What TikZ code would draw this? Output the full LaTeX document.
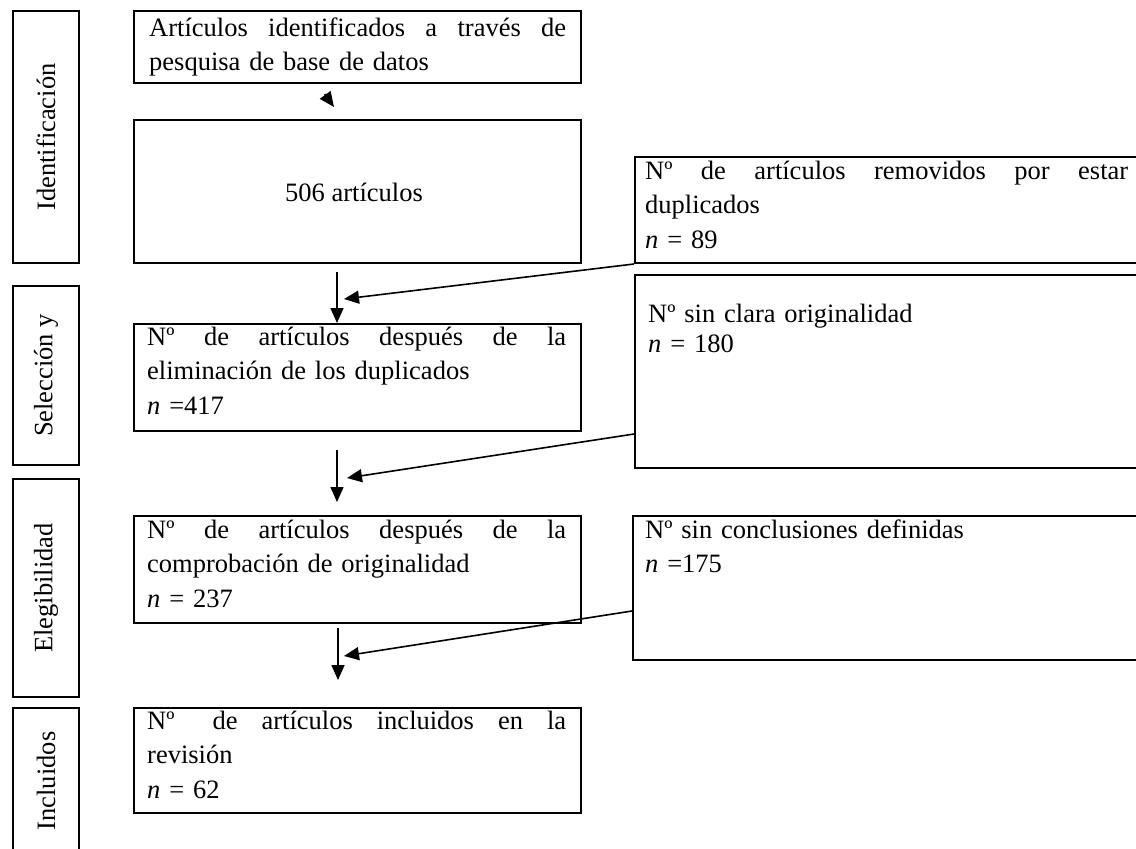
\documentclass[tikz,border=0pt]{standalone}
\usepackage{fontspec}
\setmainfont{Liberation Serif}
\usetikzlibrary{arrows.meta}
\newcommand{\jline}[1]{\hbox to\linewidth{#1}}
\begin{document}
\begin{tikzpicture}[x=1pt,y=-1pt,
  frame/.style={draw, line width=2pt, inner sep=0pt, anchor=north west},
  txt/.style={inner sep=0pt, anchor=base west, align=left, font=\fontsize{26.5}{34.5}\selectfont},
  tighttxt/.style={inner sep=0pt, anchor=base west, align=left, font=\fontsize{26.5}{30}\selectfont},
  ctxt/.style={inner sep=0pt, anchor=base, font=\fontsize{26.5}{34.5}\selectfont},
  lab/.style={rotate=90, inner sep=0pt, font=\fontsize{26.5}{32}\selectfont},
  arr/.style={line width=1.6pt, -{Triangle[length=15pt,width=13pt]}}]
\useasboundingbox (0,0) rectangle (1136,849);
\clip (0,0) rectangle (1136,849);
\fill[white] (0,0) rectangle (1136,849);

% stage labels
\node[frame, minimum width=66, minimum height=252] (L1) at (12,10) {};
\node[lab] (L1t) at (L1.center) {Identificación};
\node[frame, minimum width=66, minimum height=179] (L2) at (12,285) {};
\node[lab] (L2t) at (L2.center) {Selección y};
\node[frame, minimum width=66, minimum height=218] (L3) at (12,478) {};
\node[lab] (L3t) at (L3.center) {Elegibilidad};
\node[frame, minimum width=66, minimum height=146] (L4) at (12,707) {};
\node[lab] (L4t) at (L4.center) {Incluidos};

% main column
\node[frame, minimum width=447, minimum height=72] (b0) at (133,10) {};
\node[txt, text width=417] (t0) at (149,36) {\jline{Artículos\hfill identificados\hfill a\hfill través\hfill de}\\pesquisa de base de datos};
\node[frame, minimum width=447, minimum height=143] (b1) at (133,119) {};
\node[ctxt] (t1) at (354,201) {506 artículos};
\node[frame, minimum width=447, minimum height=107] (b2) at (133,323) {};
\node[txt, text width=419] (t2) at (147,345) {\jline{Nº\hfill de\hfill artículos\hfill después\hfill de\hfill la}\\eliminación de los duplicados\\\textit{n} =417};
\node[frame, minimum width=447, minimum height=107] (b3) at (133,515) {};
\node[txt, text width=419] (t3) at (147,538) {\jline{Nº\hfill de\hfill artículos\hfill después\hfill de\hfill la}\\comprobación de originalidad\\\textit{n} = 237};
\node[frame, minimum width=447, minimum height=105] (b4) at (133,707) {};
\node[txt, text width=419] (t4) at (147,729) {\jline{Nº\hspace{14pt}\hfill de\hfill artículos\hfill incluidos\hfill en\hfill la}\\revisión\\\textit{n} = 62};

% right column
\node[frame, minimum width=520, minimum height=106] (r1) at (634,156) {};
\node[txt, text width=483] (s1) at (645,179) {\jline{Nº\hfill de\hfill artículos\hfill removidos\hfill por\hfill estar}\\duplicados\\\textit{n} = 89};
\node[frame, minimum width=520, minimum height=193] (r2) at (634,274) {};
\node[tighttxt, text width=483] (s2) at (648,322) {Nº sin clara originalidad\\\textit{n} = 180};
\node[frame, minimum width=520, minimum height=144] (r3) at (632,515) {};
\node[txt, text width=483] (s3) at (645,538) {Nº sin conclusiones definidas\\\textit{n} =175};

% connectors
\coordinate (ta) at (324.6,94.1);
\coordinate (tb) at (334,107);
\draw[arr] (ta) -- (tb);

\coordinate (a1s) at (337,272);
\draw[arr] (a1s) -- (a1s |- b2.north);
\coordinate (d1e) at (344,299);
\draw[arr] (r1.south west) -- (d1e);

\coordinate (a2s) at (337,450);
\coordinate (a2e) at (337,502);
\draw[arr] (a2s) -- (a2e);
\coordinate (d2e) at (347,478);
\draw[arr] (r2.west |- 0,434) -- (d2e);

\coordinate (a3s) at (338,628);
\coordinate (a3e) at (338,680);
\draw[arr] (a3s) -- (a3e);
\coordinate (d3e) at (344,656);
\draw[arr] (r3.west |- 0,611) -- (d3e);
\end{tikzpicture}
\end{document}
